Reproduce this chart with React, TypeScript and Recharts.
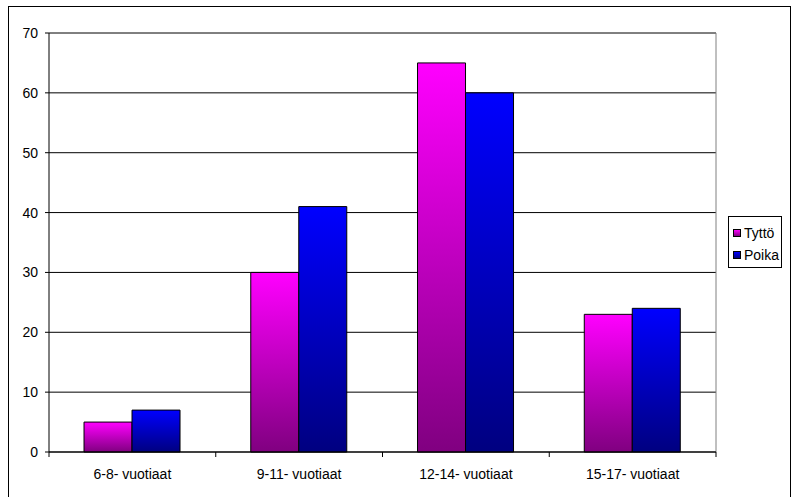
import React from 'react';
import {
  BarChart,
  Bar,
  XAxis,
  YAxis,
  CartesianGrid,
  ReferenceLine,
} from 'recharts';

const ageGroups = ['6-8- vuotiaat', '9-11- vuotiaat', '12-14- vuotiaat', '15-17- vuotiaat'];
const girls = [5, 30, 65, 23];
const boys = [7, 41, 60, 24];
const yTicks = [0, 10, 20, 30, 40, 50, 60, 70];

const SERIES = [
  { key: 'tytto', name: 'Tyttö', top: '#FF00FF', bottom: '#800080' },
  { key: 'poika', name: 'Poika', top: '#0000FF', bottom: '#000080' },
];

const FONT = '"Liberation Sans", Arial, sans-serif';
const FONT_SIZE = 14;

const data = ageGroups.map((group, i) => ({
  group,
  tytto: girls[i],
  poika: boys[i],
}));

// category label in the middle, tick mark on the band edges
function CategoryTick(props: any) {
  const { x, y, payload, index } = props;
  const half = payload.offset || 0;
  const axisY = y - 17;
  return (
    <g>
      {index === 0 && (
        <line x1={x - half} x2={x - half} y1={axisY} y2={axisY + 5} stroke="#000" />
      )}
      <line x1={x + half} x2={x + half} y1={axisY} y2={axisY + 5} stroke="#000" />
      <text x={x} y={y} dy="0.71em" textAnchor="middle" fill="#000" fontSize={FONT_SIZE} fontFamily={FONT}>
        {payload.value}
      </text>
    </g>
  );
}

// legend box kept outside the chart so it doesn't eat into the plot area
function LegendBox() {
  return (
    <div
      style={{
        position: 'absolute',
        left: 728,
        top: 216,
        width: 54,
        height: 52,
        boxSizing: 'border-box',
        border: '1px solid #000',
        background: '#fff',
        fontFamily: FONT,
        fontSize: FONT_SIZE,
        color: '#000',
        paddingTop: 5,
        paddingLeft: 4,
      }}
    >
      {SERIES.map((s) => (
        <div key={s.key} style={{ display: 'flex', alignItems: 'center', height: 22, whiteSpace: 'nowrap' }}>
          <span
            style={{
              display: 'inline-block',
              flex: 'none',
              width: 6,
              height: 6,
              border: '1px solid #000',
              background: `linear-gradient(${s.top}, ${s.bottom})`,
              marginRight: 3,
            }}
          />
          <span>{s.name}</span>
        </div>
      ))}
    </div>
  );
}

export default function App() {
  return (
    <div style={{ position: 'absolute', left: 0, top: 0, width: 792, height: 497, background: '#fff', overflow: 'hidden' }}>
      <div
        style={{
          position: 'absolute',
          left: 8,
          top: 6,
          width: 783,
          height: 500,
          boxSizing: 'border-box',
          border: '1px solid #000',
        }}
      />
      <div style={{ position: 'absolute', left: 0, top: 0 }}>
        <BarChart
          width={792}
          height={497}
          data={data}
          margin={{ top: 33, right: 76, bottom: 15, left: 9 }}
          barCategoryGap="21%"
          barGap={0}
        >
          <defs>
            {SERIES.map((s) => (
              <linearGradient key={s.key} id={`grad-${s.key}`} x1="0" y1="0" x2="0" y2="1">
                <stop offset="0%" stopColor={s.top} />
                <stop offset="100%" stopColor={s.bottom} />
              </linearGradient>
            ))}
          </defs>
          <CartesianGrid vertical={false} stroke="#000" />
          <XAxis
            dataKey="group"
            height={30}
            axisLine={{ stroke: '#000' }}
            tickLine={false}
            tickSize={5}
            tickMargin={12}
            interval={0}
            tick={<CategoryTick />}
          />
          <YAxis
            width={40}
            domain={[0, 70]}
            ticks={yTicks}
            interval={0}
            axisLine={{ stroke: '#000' }}
            tickLine={{ stroke: '#000' }}
            tickSize={4}
            tickMargin={7}
            tick={{ fill: '#000', fontSize: FONT_SIZE, fontFamily: FONT }}
          />
          <ReferenceLine y={70} stroke="#808080" />
          <ReferenceLine x={ageGroups[ageGroups.length - 1]} position="end" stroke="#808080" />
          {SERIES.map((s) => (
            <Bar
              key={s.key}
              dataKey={s.key}
              name={s.name}
              fill={`url(#grad-${s.key})`}
              stroke="#000"
              strokeWidth={1}
              isAnimationActive={false}
            />
          ))}
        </BarChart>
      </div>
      <LegendBox />
    </div>
  );
}
